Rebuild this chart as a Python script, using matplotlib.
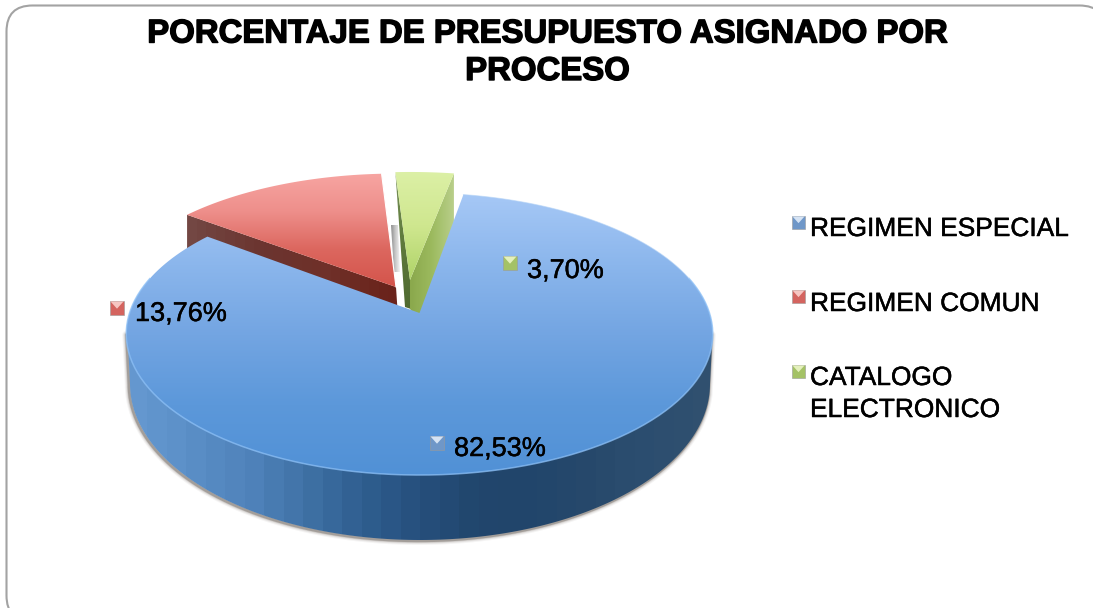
import numpy as np
import matplotlib
matplotlib.use("Agg")
import matplotlib.pyplot as plt
from matplotlib.patches import Polygon, FancyBboxPatch
from matplotlib.colors import LinearSegmentedColormap
import matplotlib.patheffects as pe

plt.rcParams['font.family'] = ['Liberation Sans', 'DejaVu Sans']

# ---- data ----
categories = ["REGIMEN ESPECIAL", "REGIMEN COMUN", "CATALOGO\nELECTRONICO"]
values = [82.53, 13.76, 3.70]
value_labels = ["82,53%", "13,76%", "3,70%"]
title_lines = ["PORCENTAJE DE PRESUPUESTO ASIGNADO POR", "PROCESO"]

# ---- style / layout ----
W, H = 1093, 608
START = 10.0
A, B, K = 290.0, 137.9, 0.149
APEX = [(419.5, 313.0), (396.0, 287.0), (410.0, 280.0)]
SCALE = [(1.0, 1.0), (0.985, 0.945), (1.0, 0.90)]
KEY = ["#6f97c8", "#d4645f", "#a4c266"]
KEY_L = ["#d5e3f4", "#f6c6c2", "#e4f0bc"]

fig = plt.figure(figsize=(W / 100, H / 100), dpi=100)
ax = fig.add_axes([0, 0, 1, 1])
ax.set_xlim(0, W)
ax.set_ylim(H, 0)
ax.axis("off")


def rim(i, t0, t1, n=200):
    t = np.radians(np.linspace(t0, t1, n))
    u, v = np.sin(t), np.cos(t)
    x = APEX[i][0] + SCALE[i][0] * A * u / (1 + K * v)
    y = APEX[i][1] - SCALE[i][1] * B * v / (1 + K * v)
    return x, y


def grad(poly, stops, horizontal=False, z=2, bands=None):
    """fill a polygon with a gradient, clipped by its outline"""
    pts = np.asarray(poly)
    x0, y0 = pts.min(0)
    x1, y1 = pts.max(0)
    cmap = LinearSegmentedColormap.from_list("g", stops)
    n = bands or 256
    g = np.linspace(0, 1, n)
    img = g[None, :] if horizontal else g[:, None]
    patch = Polygon(pts, closed=True, fc="none", ec="none", zorder=z)
    ax.add_patch(patch)
    im = ax.imshow(img, cmap=cmap, vmin=0, vmax=1, extent=(x0, x1, y1, y0),
                   origin="upper", aspect="auto", zorder=z,
                   interpolation="nearest" if bands else "bilinear")
    im.set_clip_path(patch)


# frame (its right and bottom corners run past the picture edge)
ax.add_patch(FancyBboxPatch((6.5, 5.5), 1099, 616, boxstyle="round,pad=0,rounding_size=26",
                            fc="white", ec="#a3a3a3", lw=1.5, zorder=1))

# angles from the values
angles = np.cumsum([0] + [v / sum(values) * 360 for v in values]) + START

# ---- red slice ----
rx, ry = rim(1, angles[1], angles[2])
ax_, ay_ = APEX[1]
wall = list(zip(rx[:1], ry[:1])) + [(rx[0], ry[0] + 34), (ax_ + 2, ay_ + 30), (ax_, ay_)]
grad(wall, ["#734743", "#6b3530", "#6f3029", "#6a231b"], horizontal=True, z=3, bands=22)
grad(list(zip(rx, ry)) + [(ax_, ay_)], ["#f7a5a2", "#ee8f8b", "#dc675f", "#d4544b"], z=4)
ax.plot([rx[-1], ax_], [ry[-1], ay_], color="white", lw=0.8, zorder=4)

# ---- shadow strip left of green ----
grad([(391, 225), (398, 225), (400, 272), (394, 272)], ["#8f8f8f", "#c8c8c8", "#f4f4f4"],
     horizontal=True, z=3)

# ---- green slice ----
gx, gy = rim(2, angles[2], angles[3])
ax_, ay_ = APEX[2]
grad([(gx[0], gy[0]), (ax_, ay_), (ax_ + 1, ay_ + 29), (ax_ - 5, ay_ + 27)],
     ["#79935a", "#5f7a3c", "#4f6a30"], z=4)
grad([(gx[-1], gy[-1]), (gx[-1], gy[-1] + 70), (ax_ + 15, ay_ + 50), (ax_, ay_ + 29), (ax_, ay_)],
     ["#8aa84c", "#9cba5e", "#b9cf8a"], horizontal=True, z=4)
grad(list(zip(gx, gy)) + [(ax_, ay_)], ["#dcf0a6", "#cfe78f", "#afd368"], z=5)

# ---- blue slice: soft shadow, wall, top ----
t = np.radians(np.linspace(90, 270, 200))
bx = 420 + 290 * np.sin(t)
by = 384 - 156 * np.cos(t)
outline = [(712.5, 334)] + list(zip(bx, by)) + [(127.5, 334)]
ox, oy = np.array(outline).T
for lw, al in [(6, 0.06), (4.5, 0.10), (3, 0.18), (2, 0.35)]:
    ax.plot(ox - 1.0, oy + 0.8, color="#5a5148", lw=lw, alpha=al, zorder=5.5,
            solid_capstyle="round")
grad(outline,
     ["#6497cf", "#5a8ec6", "#4f82ba", "#3f71a5", "#2f5e8f", "#264f7c",
      "#21466d", "#21456b", "#27496b", "#2c4e70", "#30506f"],
     horizontal=True, z=6, bands=30)

bluex, bluey = rim(0, angles[0], angles[1])
ax_, ay_ = APEX[0]
top = list(zip(bluex, bluey)) + [(ax_, ay_)]
grad(top, ["#a6c8f6", "#8bb6ec", "#73a5e2", "#5c98da", "#5191d6"], z=7)

# light rim along the front edge
fx, fy = rim(0, 75, 285)
ax.plot(fx, fy, color="#8dc0f6", lw=1.1, alpha=0.75, zorder=8)
lx, ly = rim(0, angles[0], 75)
ax.plot(lx, ly, color="#b5d4f7", lw=0.7, alpha=0.6, zorder=8)


def key(x, y, i, s=14):
    ax.add_patch(Polygon([(x, y), (x + s, y), (x + s, y + s), (x, y + s)],
                         fc=KEY[i], ec="#9a9a9a", lw=0.4, zorder=9))
    ax.add_patch(Polygon([(x + 0.5, y + 0.5), (x + s - 0.5, y + 0.5), (x + s / 2, y + s * 0.55)],
                         fc=KEY_L[i], ec="none", zorder=10))


heavy = [pe.withStroke(linewidth=0.35, foreground="black")]
# legend
key_y = [216, 290, 365]
base_y = [236, 311, 385]
for i, (c, ky, by_) in enumerate(zip(categories, key_y, base_y)):
    key(792, ky, i, 13)
    for j, part in enumerate(c.split("\n")):
        ax.text(810, by_ + 32 * j, part, fontsize=18.95, color="black", va="baseline", ha="left",
                zorder=10, path_effects=heavy)

# data labels
lab_key = [(430, 436), (110, 301), (503, 256)]
lab_pos = [(454, 456), (135, 321), (527, 278)]
for i, (txt, k, p) in enumerate(zip(value_labels, lab_key, lab_pos)):
    key(k[0], k[1], i, 14)
    ax.text(p[0], p[1], txt, fontsize=19.5, color="black", va="baseline", ha="left", zorder=10,
            path_effects=heavy)

# title
for line, y in zip(title_lines, [42.5, 80]):
    ax.text(547.5, y, line, fontsize=23.7, fontweight="bold", color="black", ha="center",
            va="baseline", zorder=10,
            path_effects=[pe.withStroke(linewidth=1.0, foreground="black")])

ax.set_xlim(0, W)
ax.set_ylim(H, 0)
fig.savefig("out.png", dpi=100, facecolor="white")
